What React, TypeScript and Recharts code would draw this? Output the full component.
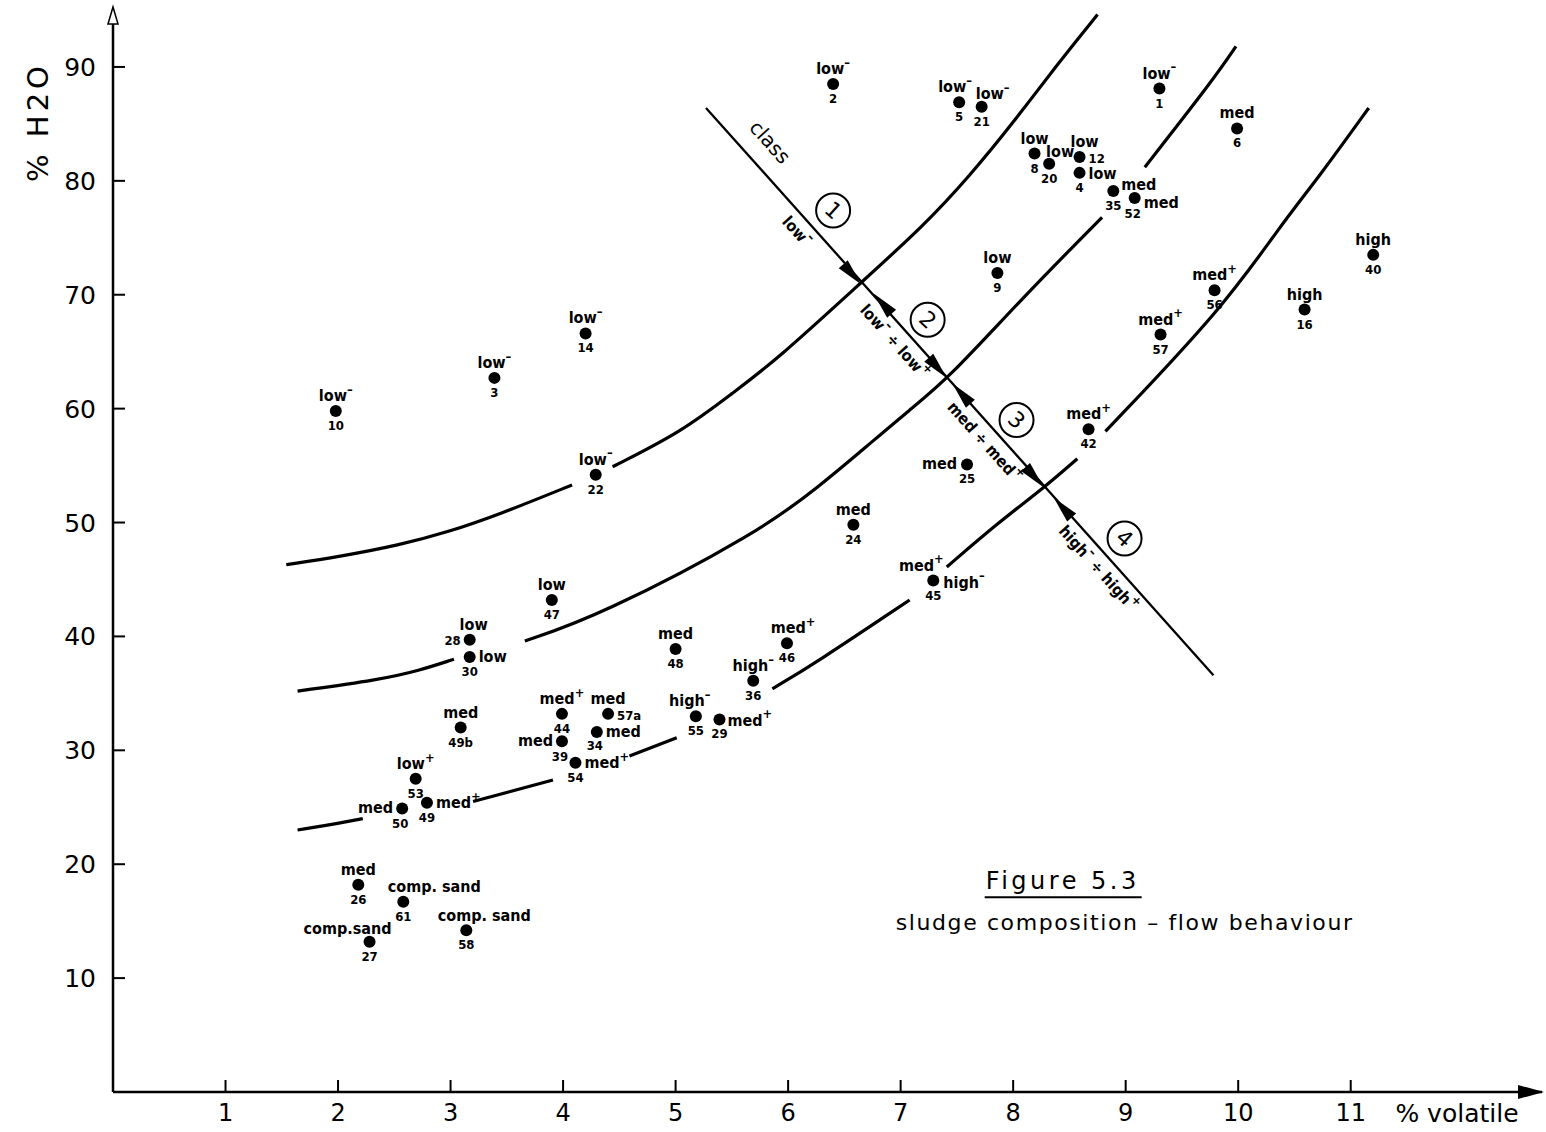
import React from "react";
import { ComposedChart, XAxis, YAxis, Line, Scatter, ReferenceDot } from "recharts";

// samples: id, % volatile, % H2O, flow class
const SAMPLE_IDS = [
  "10", "3", "14", "22", "2", "5", "21", "1", "6", "8",
  "20", "12", "4", "35", "52", "9", "40", "56", "16", "57",
  "42", "25", "24", "45", "47", "28", "30", "48", "46", "36",
  "55", "29", "49b", "44", "57a", "39", "34", "54", "53", "50",
  "49", "26", "61", "27", "58",
];
const VOLATILE = [
  1.98, 3.39, 4.2, 4.29, 6.4, 7.52, 7.72, 9.3, 9.99, 8.19,
  8.32, 8.59, 8.59, 8.89, 9.08, 7.86, 11.2, 9.79, 10.59, 9.31,
  8.67, 7.59, 6.58, 7.29, 3.9, 3.17, 3.17, 5.0, 5.99, 5.69,
  5.18, 5.39, 3.09, 3.99, 4.4, 3.99, 4.3, 4.11, 2.69, 2.57,
  2.79, 2.18, 2.58, 2.28, 3.14,
];
const WATER = [
  59.8, 62.7, 66.6, 54.2, 88.5, 86.9, 86.5, 88.1, 84.6, 82.4,
  81.5, 82.1, 80.7, 79.1, 78.5, 71.9, 73.5, 70.4, 68.7, 66.5,
  58.2, 55.1, 49.8, 44.9, 43.2, 39.7, 38.2, 38.9, 39.4, 36.1,
  33.0, 32.7, 32.0, 33.2, 33.2, 30.8, 31.6, 28.9, 27.5, 24.9,
  25.4, 18.2, 16.7, 13.2, 14.2,
];
const FLOW_CLASS = [
  "low-", "low-", "low-", "low-", "low-", "low-", "low-", "low-", "med", "low",
  "low", "low", "low", "med", "med", "low", "high", "med+", "high", "med+",
  "med+", "med", "med", "med+/high-", "low", "low", "low", "med", "med+", "high-",
  "high-", "med+", "med", "med+", "med", "med", "med", "med+", "low+", "med",
  "med+", "med", "comp. sand", "comp.sand", "comp. sand",
];

const X_TICKS = [1, 2, 3, 4, 5, 6, 7, 8, 9, 10, 11];
const Y_TICKS = [10, 20, 30, 40, 50, 60, 70, 80, 90];

// class boundaries, broken where the drawing leaves room for labels
const CURVE_1A = [[1.54, 46.3], [2.01, 47.0], [2.54, 48.0], [2.99, 49.2], [3.43, 50.7], [4.08, 53.3]];
const CURVE_1B = [[4.44, 54.9], [5.06, 58.0], [5.51, 61.4], [5.9, 64.3], [6.64, 71.0], [7.2, 76.0], [7.62, 80.5], [8.0, 85.1], [8.39, 90.2], [8.75, 94.6]];
const CURVE_2A = [[1.64, 35.2], [2.37, 36.2], [2.72, 37.0], [3.03, 38.0]];
const CURVE_2B = [[3.66, 39.6], [4.32, 41.8], [5.75, 49.2], [6.28, 53.2], [6.7, 56.7], [7.08, 59.9], [7.41, 62.5], [8.09, 69.8], [8.79, 76.8]];
const CURVE_2C = [[9.17, 81.2], [9.78, 88.9], [9.98, 91.8]];
const CURVE_3A = [[1.64, 23.0], [2.01, 23.6], [2.22, 24.0]];
const CURVE_3B = [[3.2, 25.5], [3.91, 27.4]];
const CURVE_3C = [[4.59, 29.5], [5.01, 31.1]];
const CURVE_3D = [[5.86, 35.4], [6.25, 37.7], [7.08, 43.2]];
const CURVE_3E = [[7.41, 46.1], [7.88, 50.1], [8.28, 53.1], [8.57, 55.6]];
const CURVE_3F = [[8.82, 58.0], [9.87, 68.9], [10.37, 76.0], [10.73, 80.5], [11.16, 86.4]];
const CLASS_AXIS = [[5.27, 86.4], [9.78, 36.6]];

const CURVES = [CURVE_1A, CURVE_1B, CURVE_2A, CURVE_2B, CURVE_2C, CURVE_3A, CURVE_3B, CURVE_3C, CURVE_3D, CURVE_3E, CURVE_3F];

// text and arrows along the class axis
const ANNOTATIONS = [
  { x: 5.84, y: 83.4, kind: "label", text: "class", size: 20, weight: "normal" },
  { x: 6.08, y: 75.6, kind: "label", text: "low-", size: 16, weight: "bold" },
  { x: 6.95, y: 65.9, kind: "label", text: "low- ÷ low+", size: 16, weight: "bold" },
  { x: 7.75, y: 57.1, kind: "label", text: "med  ÷  med+", size: 16, weight: "bold" },
  { x: 8.76, y: 46.0, kind: "label", text: "high- ÷ high+", size: 16, weight: "bold" },
  { x: 6.4, y: 77.4, kind: "circle", text: "1" },
  { x: 7.24, y: 67.8, kind: "circle", text: "2" },
  { x: 8.03, y: 59.0, kind: "circle", text: "3" },
  { x: 8.99, y: 48.6, kind: "circle", text: "4" },
  { x: 6.65, y: 70.9, kind: "arrow", text: "down" },
  { x: 6.76, y: 70.1, kind: "arrow", text: "up" },
  { x: 7.41, y: 62.7, kind: "arrow", text: "down" },
  { x: 7.46, y: 62.2, kind: "arrow", text: "up" },
  { x: 8.27, y: 53.1, kind: "arrow", text: "down" },
  { x: 8.36, y: 52.2, kind: "arrow", text: "up" },
];

const LINE_ANGLE = 48.2;
const LABEL_FONT = "'DejaVu Sans Condensed', 'Liberation Sans Narrow', 'DejaVu Sans', sans-serif";
const PLAIN_FONT = "'DejaVu Sans', sans-serif";

type Pos = [number, number, "start" | "middle" | "end"];
const LAYOUT: Record<string, { cls?: Pos; id?: Pos; extra?: Pos }> = {
  "5": { cls: [-4, -10, "middle"] },
  "21": { cls: [11, -8, "middle"] },
  "20": { cls: [11, -7, "middle"] },
  "12": { cls: [5, -10, "middle"], id: [9, 6, "start"] },
  "4": { cls: [9, 6, "start"] },
  "35": { cls: [8, -1, "start"] },
  "52": { cls: [9, 10, "start"], id: [-2, 20, "middle"] },
  "46": { cls: [6, -10, "middle"] },
  "55": { cls: [-6, -10, "middle"] },
  "29": { cls: [8, 6, "start"], id: [0, 18, "middle"] },
  "25": { cls: [-10, 5, "end"] },
  "45": { cls: [-12, -10, "middle"], extra: [10, 7, "start"] },
  "28": { cls: [4, -10, "middle"], id: [-9, 5, "end"] },
  "30": { cls: [9, 5, "start"] },
  "57a": { id: [9, 6, "start"] },
  "39": { cls: [-9, 5, "end"], id: [-2, 20, "middle"] },
  "34": { cls: [9, 5, "start"], id: [-2, 18, "middle"] },
  "54": { cls: [9, 5, "start"] },
  "50": { cls: [-9, 5, "end"], id: [-2, 20, "middle"] },
  "49": { cls: [9, 5, "start"] },
  "61": { cls: [31, -10, "middle"] },
  "27": { cls: [-22, -8, "middle"] },
  "58": { cls: [18, -9, "middle"] },
};

const SAMPLES = SAMPLE_IDS.map((id, i) => ({ id, x: VOLATILE[i], y: WATER[i], cls: FLOW_CLASS[i] }));
const toPoints = (c: number[][]) => c.map(([x, y]) => ({ x, y }));

function rich(s: string, size: number) {
  const parts = s.split(/([+-])/);
  const out: React.ReactNode[] = [];
  let raised = false;
  parts.forEach((p, k) => {
    if (p === "+" || p === "-") {
      out.push(
        <tspan key={k} dy={-size * 0.45} fontSize={size * 0.8}>
          {p === "-" ? "–" : "+"}
        </tspan>
      );
      raised = true;
    } else if (p) {
      out.push(
        <tspan key={k} dy={raised ? size * 0.45 : 0}>
          {p}
        </tspan>
      );
      raised = false;
    }
  });
  return out;
}

const renderSample = (p: any) => {
  const { cx, cy, payload } = p;
  if (cx == null || cy == null) return <g />;
  const lay = LAYOUT[payload.id] ?? {};
  const [cls, extra] = String(payload.cls).split("/");
  const c = lay.cls ?? [0, -10, "middle"];
  const i = lay.id ?? [0, 19, "middle"];
  return (
    <g>
      <circle cx={cx} cy={cy} r={6} fill="#000" />
      <text x={cx + c[0]} y={cy + c[1]} textAnchor={c[2]} fontFamily={LABEL_FONT} fontWeight="bold" fontSize={16} fill="#000">
        {rich(cls, 16)}
      </text>
      {extra && lay.extra && (
        <text x={cx + lay.extra[0]} y={cy + lay.extra[1]} textAnchor={lay.extra[2]} fontFamily={LABEL_FONT} fontWeight="bold" fontSize={16} fill="#000">
          {rich(extra, 16)}
        </text>
      )}
      <text x={cx + i[0]} y={cy + i[1]} textAnchor={i[2]} fontFamily={LABEL_FONT} fontWeight="bold" fontSize={13} fill="#000">
        {payload.id}
      </text>
    </g>
  );
};

const renderAnnotation = (p: any) => {
  const { cx, cy, payload } = p;
  if (cx == null || cy == null) return <g />;
  if (payload.kind === "circle") {
    return (
      <g>
        <circle cx={cx} cy={cy} r={17} fill="#fff" stroke="#000" strokeWidth={2} />
        <text x={cx} y={cy} transform={`rotate(42 ${cx} ${cy})`} textAnchor="middle" dominantBaseline="central" fontFamily={PLAIN_FONT} fontSize={22} fill="#000">
          {payload.text}
        </text>
      </g>
    );
  }
  if (payload.kind === "arrow") {
    const a = payload.text === "down" ? LINE_ANGLE : LINE_ANGLE + 180;
    return (
      <polygon
        points={`${cx},${cy} ${cx - 27},${cy - 6} ${cx - 27},${cy + 6}`}
        transform={`rotate(${a} ${cx} ${cy})`}
        fill="#000"
      />
    );
  }
  return (
    <text
      x={cx}
      y={cy}
      transform={`rotate(${LINE_ANGLE} ${cx} ${cy})`}
      textAnchor="middle"
      dominantBaseline="central"
      fontFamily={payload.weight === "bold" ? LABEL_FONT : PLAIN_FONT}
      fontWeight={payload.weight}
      fontSize={payload.size}
      fill="#000"
    >
      {rich(payload.text, payload.size)}
    </text>
  );
};

const XTick = (p: any) => (
  <g>
    <line x1={p.x} x2={p.x} y1={p.y} y2={p.y - 12} stroke="#000" strokeWidth={2} />
    <text x={p.x} y={p.y + 29} textAnchor="middle" fontFamily={PLAIN_FONT} fontSize={24} fill="#000">
      {p.payload.value}
    </text>
  </g>
);

const YTick = (p: any) => (
  <g>
    <line x1={p.x} x2={p.x + 12} y1={p.y} y2={p.y} stroke="#000" strokeWidth={2} />
    <text x={p.x - 17} y={p.y + 9} textAnchor="end" fontFamily={PLAIN_FONT} fontSize={25} fill="#000">
      {p.payload.value}
    </text>
  </g>
);

export default function App() {
  return (
    <div style={{ position: "absolute", left: 0, top: 0, width: 1546, height: 1132, background: "#fff" }}>
      <ComposedChart width={1546} height={1132} margin={{ top: 10, right: 4, bottom: 0, left: 53 }}>
        <XAxis
          type="number"
          dataKey="x"
          domain={[0, 12.7]}
          ticks={X_TICKS}
          interval={0}
          allowDataOverflow
          height={40}
          axisLine={{ stroke: "#000", strokeWidth: 2.5 }}
          tickLine={false}
          tickSize={0}
          tickMargin={0}
          tick={XTick}
        />
        <YAxis
          type="number"
          dataKey="y"
          domain={[0, 95]}
          ticks={Y_TICKS}
          interval={0}
          allowDataOverflow
          width={60}
          axisLine={{ stroke: "#000", strokeWidth: 2.5 }}
          tickLine={false}
          tickSize={0}
          tickMargin={0}
          tick={YTick}
        />
        {CURVES.map((c, k) => (
          <Line
            key={k}
            data={toPoints(c)}
            dataKey="y"
            type="basis"
            stroke="#000"
            strokeWidth={3.2}
            dot={false}
            activeDot={false}
            isAnimationActive={false}
          />
        ))}
        <Line data={toPoints(CLASS_AXIS)} dataKey="y" type="linear" stroke="#000" strokeWidth={2.3} dot={false} activeDot={false} isAnimationActive={false} />
        <Scatter data={ANNOTATIONS} dataKey="y" shape={renderAnnotation} isAnimationActive={false} />
        <Scatter data={SAMPLES} dataKey="y" shape={renderSample} isAnimationActive={false} />
        <ReferenceDot
          x={12.7}
          y={0}
          ifOverflow="visible"
          shape={(p: any) => (
            <g>
              <polygon points={`${p.cx + 2},${p.cy} ${p.cx - 24},${p.cy - 7} ${p.cx - 24},${p.cy + 7}`} fill="#000" />
              <text x={p.cx - 85} y={p.cy + 30} textAnchor="middle" fontFamily={PLAIN_FONT} fontSize={25} fill="#000">
                % volatile
              </text>
            </g>
          )}
        />
        <ReferenceDot
          x={0}
          y={95}
          ifOverflow="visible"
          shape={(p: any) => (
            <g>
              <polygon points={`${p.cx - 5},${p.cy + 14} ${p.cx},${p.cy - 3} ${p.cx + 5},${p.cy + 14}`} fill="#fff" stroke="#000" strokeWidth={1.5} />
              <text x={p.cx - 75} y={p.cy + 112} transform={`rotate(-90 ${p.cx - 75} ${p.cy + 112})`} textAnchor="middle" dominantBaseline="central" fontFamily={PLAIN_FONT} fontSize={29} letterSpacing={4} fill="#000">
                % H2O
              </text>
            </g>
          )}
        />
        <ReferenceDot
          x={8.44}
          y={18.6}
          ifOverflow="visible"
          shape={(p: any) => (
            <g>
              <text x={p.cx} y={p.cy + 9} textAnchor="middle" fontFamily={PLAIN_FONT} fontSize={24} letterSpacing={3.5} fill="#000">
                Figure 5.3
              </text>
              <line x1={p.cx - 78} x2={p.cx + 79} y1={p.cy + 17} y2={p.cy + 17} stroke="#000" strokeWidth={2} />
              <text x={p.cx + 62} y={p.cy + 50} textAnchor="middle" fontFamily={PLAIN_FONT} fontSize={22} letterSpacing={1.6} fill="#000">
                sludge composition – flow behaviour
              </text>
            </g>
          )}
        />
      </ComposedChart>
    </div>
  );
}
